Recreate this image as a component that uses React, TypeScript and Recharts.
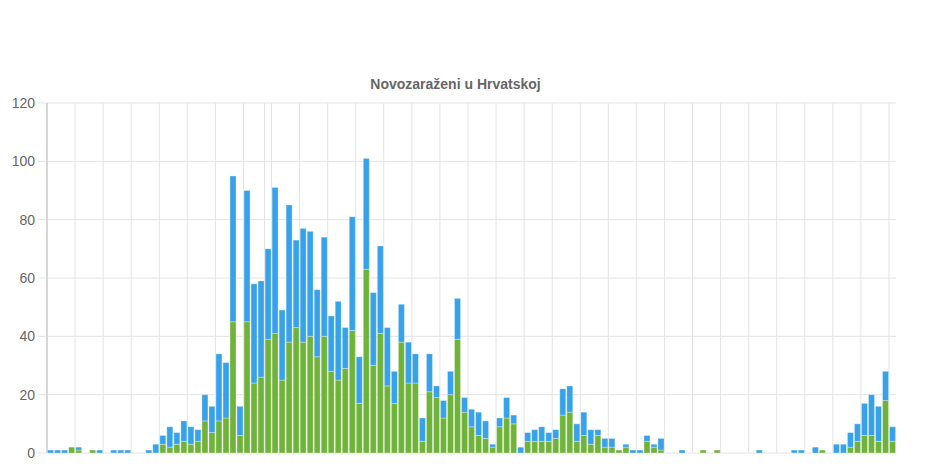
import React from 'react';
import { BarChart, Bar, XAxis, YAxis, CartesianGrid } from 'recharts';

// daily counts, bottom (green) and top (blue) part of each stacked bar
const greenValues = [
  0, 0, 0, 2, 1, 0, 1, 0, 0, 0, 0, 0, 0, 0, 0, 0, 3, 2, 3, 4,
  3, 4, 11, 7, 11, 12, 45, 6, 45, 24, 26, 39, 41, 25, 38, 43, 38, 40, 33, 40,
  28, 25, 29, 42, 17, 63, 30, 41, 23, 17, 38, 24, 24, 4, 21, 19, 12, 20, 39, 14,
  9, 6, 5, 2, 9, 12, 10, 0, 4, 4, 4, 4, 5, 13, 14, 4, 6, 3, 6, 2,
  2, 1, 2, 0, 0, 4, 2, 1, 0, 0, 0, 0, 0, 1, 0, 1, 0, 0, 0, 0,
  0, 0, 0, 0, 0, 0, 0, 0, 0, 0, 1, 0, 0, 0, 2, 4, 6, 6, 4, 18,
  4,
];
const blueValues = [
  1, 1, 1, 0, 1, 0, 0, 1, 0, 1, 1, 1, 0, 0, 1, 3, 3, 7, 4, 7,
  6, 4, 9, 9, 23, 19, 50, 10, 45, 34, 33, 31, 50, 24, 47, 30, 39, 36, 23, 34,
  19, 27, 14, 39, 16, 38, 25, 30, 20, 11, 13, 14, 10, 8, 13, 4, 6, 8, 14, 5,
  6, 8, 6, 1, 3, 7, 3, 2, 3, 4, 5, 3, 3, 9, 9, 6, 8, 5, 2, 3,
  3, 0, 1, 1, 1, 2, 1, 4, 0, 0, 1, 0, 0, 0, 0, 0, 0, 0, 0, 0,
  0, 1, 0, 0, 0, 0, 1, 1, 0, 2, 0, 0, 3, 3, 5, 6, 11, 14, 12, 10,
  5,
];
const days = greenValues.map((_, i) => String(i + 1));

const yTicks = [0, 20, 40, 60, 80, 100, 120];
// vertical grid lines sit on day boundaries (every 4 days, plus one extra)
const gridTicks = [0, 4, 8, 12, 16, 20, 24, 28, 31, 32, 36, 40, 44, 48, 52, 56, 60, 64, 68, 72, 76, 80, 84, 88, 92, 96, 100, 104, 108, 112, 116, 120];

const data = days.map((d, i) => ({ day: d, green: greenValues[i], blue: blueValues[i] }));

const font = 'Liberation Sans, Arial, sans-serif';

export default function App() {
  return (
    <div style={{ position: 'relative', width: 913, height: 456 }}>
      <div
        style={{
          position: 'absolute',
          top: 68,
          left: 0,
          width: 895,
          textAlign: 'center',
          fontFamily: font,
          fontWeight: 'bold',
          fontSize: 14,
          color: '#666',
        }}
      >
        Novozaraženi u Hrvatskoj
      </div>
      <BarChart
        width={913}
        height={456}
        data={data}
        margin={{ top: 95, right: 25, left: 0, bottom: 0 }}
        barCategoryGap="8%"
      >
        <CartesianGrid
          stroke="#e4e4e4"
          verticalCoordinatesGenerator={({ offset }: any) =>
            gridTicks.map((k) => offset.left + (offset.width * k) / days.length)
          }
        />
        <XAxis dataKey="day" hide />
        <XAxis
          xAxisId="grid"
          type="number"
          domain={[0, 121]}
          ticks={gridTicks}
          interval={0}
          allowDataOverflow
          tickFormatter={() => ''}
          tickSize={11}
          height={11}
          axisLine={{ stroke: '#bdbdbd' }}
          tickLine={{ stroke: '#e4e4e4' }}
        />
        <YAxis
          width={39}
          domain={[0, 120]}
          ticks={yTicks}
          interval={0}
          tickSize={9}
          tickMargin={3}
          axisLine={{ stroke: '#bdbdbd' }}
          tickLine={{ stroke: '#e4e4e4' }}
          tick={{ fill: '#666', fontSize: 14, fontFamily: font }}
        />
        <Bar dataKey="green" stackId="a" fill="#70b33a" stroke="rgba(255,255,255,0.3)" isAnimationActive={false} />
        <Bar dataKey="blue" stackId="a" fill="#37a2e9" stroke="rgba(255,255,255,0.3)" isAnimationActive={false} />
      </BarChart>
    </div>
  );
}
